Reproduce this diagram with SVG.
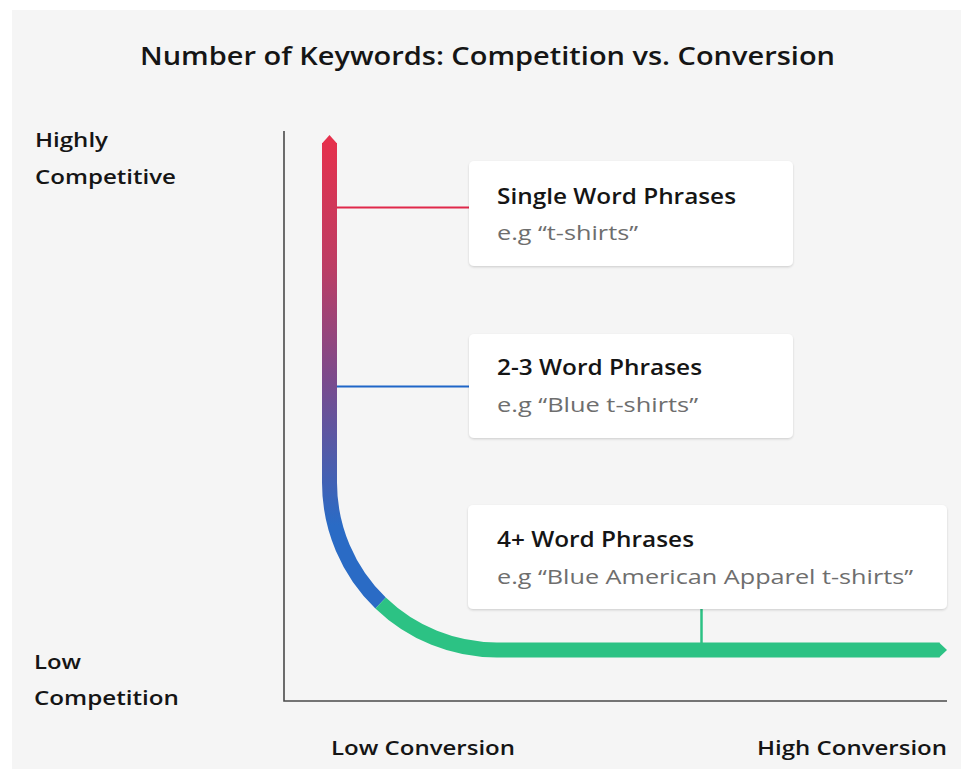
<svg xmlns="http://www.w3.org/2000/svg" width="961" height="771" viewBox="0 0 961 771">
<style>
text{font-family:"Open Sans","Liberation Sans",sans-serif;}
.title{font-size:25px;font-weight:600;fill:#151515;}
.axis-label{font-size:20px;font-weight:600;fill:#151515;}
.box-title{font-size:21px;font-weight:600;fill:#151515;}
.box-sub{font-size:20px;font-weight:400;fill:#6e6e6e;}
.box{fill:#ffffff;filter:url(#shadow);}
.axis{stroke:#4a4a4a;stroke-width:1.6;fill:none;}
</style>
<defs>
<linearGradient id="curveGrad" gradientUnits="userSpaceOnUse" x1="0" y1="140" x2="0" y2="525">
<stop offset="0" stop-color="#e5304c"/>
<stop offset="0.33" stop-color="#bc3d64"/>
<stop offset="0.62" stop-color="#7b4a8c"/>
<stop offset="1" stop-color="#2a6bc5"/>
</linearGradient>
<filter id="shadow" x="-5%" y="-10%" width="110%" height="125%">
<feDropShadow dx="0" dy="1.2" stdDeviation="1" flood-color="#000" flood-opacity="0.16"/>
</filter>
</defs>
<rect x="12" y="10" width="949" height="759" fill="#f5f5f5"/>
<text class="title" x="140" y="65" textLength="695" lengthAdjust="spacingAndGlyphs">Number of Keywords: Competition vs. Conversion</text>
<g id="axes">
<path class="axis" d="M284,131 V701 H947"/>
<text class="axis-label" x="35" y="147" textLength="73" lengthAdjust="spacingAndGlyphs">Highly</text>
<text class="axis-label" x="35" y="183.5" textLength="141" lengthAdjust="spacingAndGlyphs">Competitive</text>
<text class="axis-label" x="34" y="668.5" textLength="47" lengthAdjust="spacingAndGlyphs">Low</text>
<text class="axis-label" x="34" y="705" textLength="145" lengthAdjust="spacingAndGlyphs">Competition</text>
<text class="axis-label" x="331" y="755" textLength="184" lengthAdjust="spacingAndGlyphs">Low Conversion</text>
<text class="axis-label" x="757" y="755" textLength="190" lengthAdjust="spacingAndGlyphs">High Conversion</text>
</g>
<g id="curve">
<path d="M329.5,143 V482.5 A167.5,167.5 0 0 0 380.6,603" fill="none" stroke="url(#curveGrad)" stroke-width="15"/>
<polygon points="322,143.5 329.5,135 337,143.5" fill="#e5304c"/>
<path d="M380.6,603 A167.5,167.5 0 0 0 497,650 H939.5" fill="none" stroke="#2cc284" stroke-width="15"/>
<polygon points="939,642.5 947,650 939,657.5" fill="#2cc284"/>
</g>
<g id="connectors">
<line x1="337" y1="207.5" x2="469" y2="207.5" stroke="#e0284a" stroke-width="2"/>
<line x1="337" y1="386.5" x2="469" y2="386.5" stroke="#1f66c8" stroke-width="2"/>
<line x1="701.5" y1="609" x2="701.5" y2="643" stroke="#2cc284" stroke-width="2.5"/>
</g>
<g id="node-single">
<rect class="box" x="469" y="161" width="324" height="105" rx="5"/>
<text class="box-title" x="497" y="203.5" textLength="239" lengthAdjust="spacingAndGlyphs">Single Word Phrases</text>
<text class="box-sub" x="497" y="240" textLength="141" lengthAdjust="spacingAndGlyphs">e.g “t-shirts”</text>
</g>
<g id="node-two-three">
<rect class="box" x="469" y="334" width="324" height="104" rx="5"/>
<text class="box-title" x="497" y="374.5" textLength="205" lengthAdjust="spacingAndGlyphs">2-3 Word Phrases</text>
<text class="box-sub" x="497" y="412" textLength="201" lengthAdjust="spacingAndGlyphs">e.g “Blue t-shirts”</text>
</g>
<g id="node-four-plus">
<rect class="box" x="468" y="505" width="479" height="104" rx="5"/>
<text class="box-title" x="497" y="546.5" textLength="197" lengthAdjust="spacingAndGlyphs">4+ Word Phrases</text>
<text class="box-sub" x="497" y="584" textLength="416" lengthAdjust="spacingAndGlyphs">e.g “Blue American Apparel t-shirts”</text>
</g>
</svg>
